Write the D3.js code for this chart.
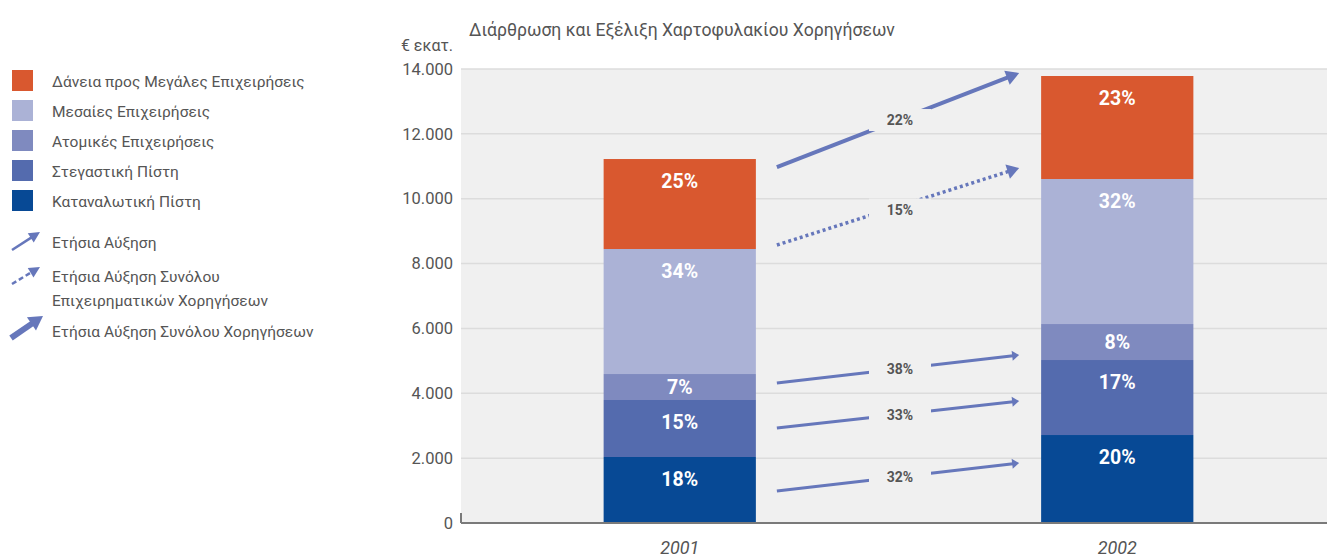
<!DOCTYPE html>
<html>
<head>
<meta charset="utf-8">
<script src="https://cdn.jsdelivr.net/npm/d3@7"></script>
<style>
  html, body { margin: 0; padding: 0; background: #ffffff; }
  svg { display: block; }
  text { font-family: "Roboto", "Liberation Sans", sans-serif; }
</style>
</head>
<body>
<svg id="chart" width="1327" height="560"></svg>
<script>
// ---------- DATA ----------
const years = ["2001", "2002"];
// series listed bottom -> top of the stack
const seriesKeys = ["consumer", "housing", "small", "medium", "large"];
const seriesNames = {
  large: "Δάνεια προς Μεγάλες Επιχειρήσεις",
  medium: "Μεσαίες Επιχειρήσεις",
  small: "Ατομικές Επιχειρήσεις",
  housing: "Στεγαστική Πίστη",
  consumer: "Καταναλωτική Πίστη"
};
const consumerValues = [2035, 2713];
const housingValues  = [1758, 2313];
const smallValues    = [801, 1110];
const mediumValues   = [3855, 4471];
const largeValues    = [2775, 3177];

const consumerShares = ["18%", "20%"];
const housingShares  = ["15%", "17%"];
const smallShares    = ["7%", "8%"];
const mediumShares   = ["34%", "32%"];
const largeShares    = ["25%", "23%"];

// growth arrows (values in € εκατ. on the y axis at 2001 side and 2002 side)
const growthLabels = ["22%", "15%", "38%", "33%", "32%"];
const growthFrom   = [10977, 8572, 4317, 2929, 987];
const growthTo     = [13876, 10946, 5180, 3762, 1850];
const growthKind   = ["thick", "dotted", "thin", "thin", "thin"];

const yTicks = [0, 2000, 4000, 6000, 8000, 10000, 12000, 14000];

const legendArrowLabels = [
  ["Ετήσια Αύξηση"],
  ["Ετήσια Αύξηση Συνόλου", "Επιχειρηματικών Χορηγήσεων"],
  ["Ετήσια Αύξηση Συνόλου Χορηγήσεων"]
];
const titleText = "Διάρθρωση και Εξέλιξη Χαρτοφυλακίου Χορηγήσεων";
const unitText = "€ εκατ.";

// ---------- STYLE ----------
const colors = {
  large: "#d9582f",
  medium: "#abb2d6",
  small: "#7f8abf",
  housing: "#546bae",
  consumer: "#074995"
};
const arrowColor = "#6677bb";
const textColor = "#555555";

// ---------- BUILD TABLE ----------
const valuesByKey = {consumer: consumerValues, housing: housingValues, small: smallValues, medium: mediumValues, large: largeValues};
const sharesByKey = {consumer: consumerShares, housing: housingShares, small: smallShares, medium: mediumShares, large: largeShares};
const table = years.map((y, i) => {
  const row = {year: y};
  seriesKeys.forEach(k => row[k] = valuesByKey[k][i]);
  return row;
});
const stacked = d3.stack().keys(seriesKeys)(table);

// ---------- LAYOUT ----------
const svg = d3.select("#chart");
const plotLeft = 461, plotRight = 1336, plotTop = 69, plotBottom = 523;

const x = d3.scaleBand().domain(years).range([plotLeft, plotRight])
  .paddingInner(0.652).paddingOuter(0.326);
const y = d3.scaleLinear().domain([0, 14000]).range([plotBottom, plotTop]);

const fmt = d3.formatLocale({decimal: ",", thousands: ".", grouping: [3], currency: ["€", ""]}).format(",");

// plot background
svg.append("rect").attr("x", plotLeft).attr("y", plotTop)
  .attr("width", 1327 - plotLeft).attr("height", plotBottom - plotTop)
  .attr("fill", "#f0f0f0");

// grid lines
svg.append("g").selectAll("line").data(yTicks.filter(d => d > 0)).join("line")
  .attr("x1", plotLeft).attr("x2", 1327)
  .attr("y1", d => y(d)).attr("y2", d => y(d))
  .attr("stroke", "#dcdcdc").attr("stroke-width", 1.5);

// y axis labels
const yAxis = svg.append("g").attr("transform", `translate(${plotLeft - 8},0)`)
  .call(d3.axisLeft(y).tickValues(yTicks).tickFormat(d => fmt(d)).tickSize(0).tickPadding(0));
yAxis.select(".domain").remove();
yAxis.selectAll("text").attr("fill", textColor).attr("font-size", 16.5)
  .style("font-family", '"Roboto", sans-serif');

// bars
const segG = svg.append("g");
stacked.forEach(layer => {
  const key = layer.key;
  segG.selectAll(null).data(layer).join("rect")
    .attr("x", d => x(d.data.year))
    .attr("width", x.bandwidth())
    .attr("y", d => y(d[1]))
    .attr("height", d => y(d[0]) - y(d[1]))
    .attr("fill", colors[key]);
});

// bar labels
stacked.forEach(layer => {
  const key = layer.key;
  segG.selectAll(null).data(layer).join("text")
    .attr("x", d => x(d.data.year) + x.bandwidth() / 2)
    .attr("y", d => {
      const top = y(d[1]), bot = y(d[0]);
      return Math.min(top + 22, (top + bot) / 2);
    })
    .attr("dy", "0.36em")
    .attr("text-anchor", "middle")
    .attr("fill", "#ffffff")
    .attr("font-size", 19.5)
    .attr("font-weight", "bold")
    .text((d, i) => sharesByKey[key][i]);
});

// baseline axis
svg.append("line").attr("x1", plotLeft).attr("x2", 1327)
  .attr("y1", plotBottom).attr("y2", plotBottom)
  .attr("stroke", "#7a7a7a").attr("stroke-width", 2);
svg.append("line").attr("x1", plotLeft).attr("x2", plotLeft)
  .attr("y1", plotBottom - 10).attr("y2", plotBottom)
  .attr("stroke", "#7a7a7a").attr("stroke-width", 2);

// x axis labels
const xAxis = svg.append("g").attr("transform", `translate(0,${plotBottom})`)
  .call(d3.axisBottom(x).tickSize(0).tickPadding(18));
xAxis.select(".domain").remove();
xAxis.selectAll("text").attr("fill", textColor).attr("font-size", 18)
  .attr("font-style", "italic").attr("dy", "0.71em")
  .style("font-family", '"Roboto", sans-serif');

// ---------- ARROWS ----------
function drawArrow(g, x1, y1, x2, y2, width, headLen, headW, dash) {
  const dx = x2 - x1, dy = y2 - y1, len = Math.hypot(dx, dy);
  const ux = dx / len, uy = dy / len;
  const bx = x2 - ux * headLen, by = y2 - uy * headLen;
  const ln = g.append("line").attr("x1", x1).attr("y1", y1).attr("x2", bx + ux).attr("y2", by + uy)
    .attr("stroke", arrowColor).attr("stroke-width", width);
  if (dash) ln.attr("stroke-dasharray", dash);
  const px = -uy, py = ux;
  g.append("path")
    .attr("d", `M${x2},${y2}L${bx + px * headW / 2},${by + py * headW / 2}L${bx - px * headW / 2},${by - py * headW / 2}Z`)
    .attr("fill", arrowColor);
}

const arrowG = svg.append("g");
const ax1 = x("2001") + x.bandwidth() + 21;
const ax2 = x("2002") - 22;
growthLabels.forEach((lab, i) => {
  const kind = growthKind[i];
  const y1 = y(growthFrom[i]), y2 = y(growthTo[i]);
  if (kind === "thick") drawArrow(arrowG, ax1, y1, ax2, y2, 4, 13, 15, null);
  else if (kind === "dotted") drawArrow(arrowG, ax1, y1, ax2, y2, 3.5, 12, 15, "3,3");
  else drawArrow(arrowG, ax1, y1, ax2, y2, 3, 7, 10, null);
});
// growth labels with background boxes
const labG = svg.append("g");
growthLabels.forEach((lab, i) => {
  const cx = (ax1 + ax2) / 2 + 2;
  const cy = (y(growthFrom[i]) + y(growthTo[i])) / 2 + (growthKind[i] === "dotted" ? 3 : 0);
  labG.append("rect").attr("x", cx - 31).attr("y", cy - 11).attr("width", 62).attr("height", 22)
    .attr("fill", "#f0f0f0");
  labG.append("text").attr("x", cx).attr("y", cy).attr("dy", "0.36em")
    .attr("text-anchor", "middle").attr("fill", "#555555")
    .attr("font-size", 14).attr("font-weight", "bold").text(lab);
});

// ---------- TITLE ----------
svg.append("text").attr("x", 469).attr("y", 36).attr("fill", textColor)
  .attr("font-size", 17.6).text(titleText);
svg.append("text").attr("x", 453).attr("y", 51).attr("text-anchor", "end").attr("fill", textColor)
  .attr("font-size", 16).text(unitText);

// ---------- LEGEND ----------
const legendOrder = ["large", "medium", "small", "housing", "consumer"];
const leg = svg.append("g");
legendOrder.forEach((k, i) => {
  const yy = 70 + i * 30;
  leg.append("rect").attr("x", 12).attr("y", yy).attr("width", 21).attr("height", 21).attr("fill", colors[k]);
  leg.append("text").attr("x", 52).attr("y", yy + 11).attr("dy", "0.36em")
    .attr("fill", textColor).attr("font-size", 15.5).text(seriesNames[k]);
});
drawArrow(leg, 12, 250, 40, 232, 2.5, 11, 11, null);
drawArrow(leg, 12, 284, 40, 267, 2.5, 11, 11, "5,3");
drawArrow(leg, 11, 338, 43, 316, 6, 14, 16, null);
const legArrowY = [[242], [276, 300], [331]];
legendArrowLabels.forEach((lines, i) => {
  lines.forEach((t, j) => {
    leg.append("text").attr("x", 52).attr("y", legArrowY[i][j]).attr("dy", "0.36em")
      .attr("fill", textColor).attr("font-size", 15.5).text(t);
  });
});
</script>
</body>
</html>
